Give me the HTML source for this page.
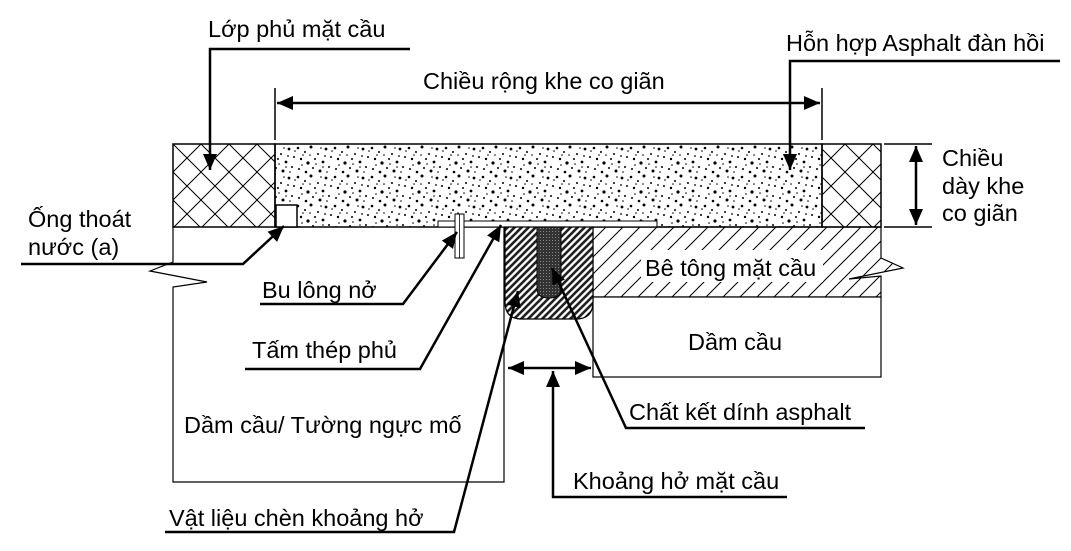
<!DOCTYPE html>
<html><head><meta charset="utf-8"><style>
body{margin:0;background:#fff}
svg text{font-family:"Liberation Sans","Noto Sans CJK SC",sans-serif;font-size:23.5px;fill:#000}
</style></head><body>
<svg width="1071" height="546" viewBox="0 0 1071 546" xmlns="http://www.w3.org/2000/svg">
<defs>
<pattern id="cross" width="28" height="28" patternUnits="userSpaceOnUse" x="173" y="144">
<path d="M0 0L28 28M28 0L0 28" stroke="#000" stroke-width="1"/>
</pattern>
<pattern id="hatch" width="17" height="17" patternUnits="userSpaceOnUse">
<path d="M-2 19L19 -2M-2 2L2 -2M15 19L19 15" stroke="#000" stroke-width="1"/>
</pattern>
<pattern id="dense" width="7" height="7" patternUnits="userSpaceOnUse">
<rect width="7" height="7" fill="#fff"/>
<path d="M-1 8L8 -1M-1 1L1 -1M6 8L8 6" stroke="#222" stroke-width="2.6"/>
</pattern>
<pattern id="dark" width="3" height="3" patternUnits="userSpaceOnUse">
<rect width="3" height="3" fill="#333"/><rect width="1" height="1" fill="#888"/>
</pattern>
<pattern id="speck" width="37" height="29" patternUnits="userSpaceOnUse">
<g fill="#000">
<circle cx="2" cy="3" r="1.3"/><circle cx="9" cy="7" r="1"/><circle cx="15" cy="2" r="1.5"/><circle cx="22" cy="9" r="1"/><circle cx="30" cy="4" r="1.4"/><circle cx="35" cy="12" r="1"/>
<circle cx="5" cy="14" r="1.2"/><circle cx="12" cy="18" r="1.6"/><circle cx="19" cy="14" r="1"/><circle cx="27" cy="17" r="1.4"/><circle cx="33" cy="22" r="1"/>
<circle cx="3" cy="24" r="1"/><circle cx="10" cy="27" r="1.3"/><circle cx="17" cy="23" r="1"/><circle cx="24" cy="26" r="1.5"/><circle cx="29" cy="11" r="0.9"/>
<circle cx="7" cy="10" r="0.8"/><circle cx="25" cy="3" r="0.8"/><circle cx="14" cy="10" r="0.8"/><circle cx="31" cy="27" r="0.8"/>
<circle cx="20" cy="19" r="0.8"/><circle cx="36" cy="6" r="0.8"/><circle cx="6" cy="20" r="0.8"/><circle cx="27" cy="22" r="0.8"/>
</g>
</pattern>
<marker id="ah2" markerWidth="16" markerHeight="14" refX="16" refY="7" orient="auto" markerUnits="userSpaceOnUse">
<path d="M0 0L16 7L0 14Z" fill="#000"/>
</marker>
<marker id="ah2s" markerWidth="16" markerHeight="14" refX="0" refY="7" orient="auto" markerUnits="userSpaceOnUse">
<path d="M16 0L0 7L16 14Z" fill="#000"/>
</marker>
</defs>

<rect x="173" y="144" width="102" height="83" fill="url(#cross)" stroke="#000" stroke-width="1.5"/>
<rect x="275" y="144" width="547" height="83" fill="url(#speck)" stroke="#000" stroke-width="1.5"/>
<rect x="822" y="144" width="59" height="83" fill="url(#cross)" stroke="#000" stroke-width="1.5"/>
<rect x="276" y="205" width="21" height="22" fill="#fff" stroke="#000" stroke-width="1.5"/>
<rect x="438" y="221" width="219" height="6" fill="#fff" stroke="#000" stroke-width="1"/>
<rect x="455" y="214" width="9" height="44" fill="#fff" stroke="#000" stroke-width="1"/>
<line x1="459.5" y1="214" x2="459.5" y2="258" stroke="#000" stroke-width="0.8"/>

<path d="M173 227V262L150 271L207 282L173 287V482H504V227" fill="none" stroke="#000" stroke-width="1.2"/>
<path d="M593 227H881V258L903 268L849 279L881 276V297H593Z" fill="url(#hatch)" stroke="#000" stroke-width="1.2"/>
<rect x="641" y="250" width="182" height="32" fill="#fff"/>
<rect x="593" y="297" width="288" height="80" fill="#fff" stroke="#000" stroke-width="1.2"/>
<path d="M505 227H593V302Q593 319 576 319H522Q505 319 505 302Z" fill="url(#dense)" stroke="#000" stroke-width="1.2"/>
<path d="M537 227H561V289Q561 298 549 298Q537 298 537 289Z" fill="url(#dark)" stroke="#000" stroke-width="1"/>

<line x1="275" y1="88" x2="275" y2="140" stroke="#000" stroke-width="1.5"/>
<line x1="822" y1="88" x2="822" y2="140" stroke="#000" stroke-width="1.5"/>
<line x1="277" y1="103" x2="820" y2="103" stroke="#000" stroke-width="2.5" marker-start="url(#ah2s)" marker-end="url(#ah2)"/>
<line x1="884" y1="144" x2="932" y2="144" stroke="#000" stroke-width="1.5"/>
<line x1="884" y1="227" x2="932" y2="227" stroke="#000" stroke-width="1.5"/>
<line x1="916" y1="146" x2="916" y2="225" stroke="#000" stroke-width="2.5" marker-start="url(#ah2s)" marker-end="url(#ah2)"/>

<path d="M410 49H210V170" fill="none" stroke="#000" stroke-width="2.5" marker-end="url(#ah2)"/>
<path d="M1060 61H790V170" fill="none" stroke="#000" stroke-width="2.5" marker-end="url(#ah2)"/>
<path d="M21 264H243L284 226" fill="none" stroke="#000" stroke-width="2.5" marker-end="url(#ah2)"/>
<path d="M260 304H403L457 232" fill="none" stroke="#000" stroke-width="2.5" marker-end="url(#ah2)"/>
<path d="M245 369H420L501 225" fill="none" stroke="#000" stroke-width="2.5" marker-end="url(#ah2)"/>
<path d="M165 532H454L518 291" fill="none" stroke="#000" stroke-width="2.5" marker-end="url(#ah2)"/>
<path d="M865 428H626L552 268" fill="none" stroke="#000" stroke-width="2.5" marker-end="url(#ah2)"/>
<line x1="508" y1="368" x2="591" y2="368" stroke="#000" stroke-width="2.5" marker-start="url(#ah2s)" marker-end="url(#ah2)"/>
<path d="M787 497H553V371" fill="none" stroke="#000" stroke-width="2.5" marker-end="url(#ah2)"/>

<text x="208" y="37">Lớp phủ mặt cầu</text>
<text x="423" y="89">Chiều rộng khe co giãn</text>
<text x="786" y="51">Hỗn hợp Asphalt đàn hồi</text>
<text x="942" y="166">Chiều</text>
<text x="942" y="194">dày khe</text>
<text x="942" y="221">co giãn</text>
<text x="28" y="227">Ống thoát</text>
<text x="28" y="255">nước (a)</text>
<text x="262" y="298">Bu lông nở</text>
<text x="252" y="358">Tấm thép phủ</text>
<text x="184" y="433">Dầm cầu/ Tường ngực mố</text>
<text x="645" y="276">Bê tông mặt cầu</text>
<text x="688" y="350">Dầm cầu</text>
<text x="629" y="420">Chất kết dính asphalt</text>
<text x="573" y="489">Khoảng hở mặt cầu</text>
<text x="169" y="526">Vật liệu chèn khoảng hở</text>
</svg>
</body></html>
